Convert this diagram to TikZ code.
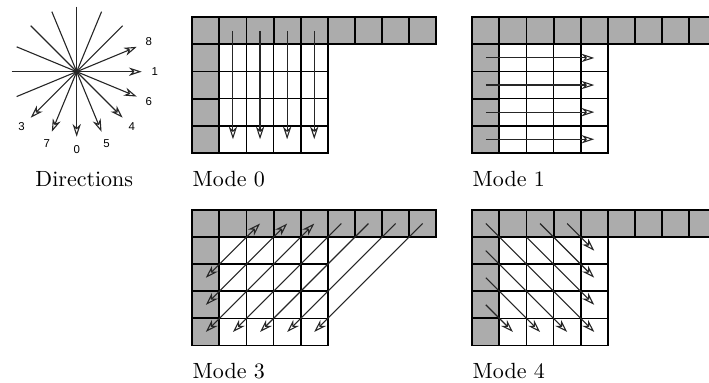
\documentclass[tikz,border=0pt]{standalone}
\usepackage{fontspec}
\newfontfamily\lblfont{Liberation Sans}
\usetikzlibrary{arrows.meta}
\newcommand\modegrid[4]{%
  \begin{scope}[shift={(#1,#2)}]
    \foreach \i in {0,...,8} \path[cellg] ({\i*27.1},0) rectangle ++(27.1,27.1);
    \foreach \j in {1,...,4} \path[cellg] (0,{\j*27.1}) rectangle ++(27.1,27.1);
    \foreach \i in {1,...,4} \foreach \j in {1,...,4} \path[cellw] ({\i*27.1},{\j*27.1}) rectangle ++(27.1,27.1);
    \draw[line width=0.9pt] (0,{5*27.1}) -- (0,0) -- ({9*27.1},0) -- ({9*27.1},27.1) -- (27.1,27.1) -- (27.1,{5*27.1});
    \foreach \i in {0,...,8} \foreach \j in {0,...,4} {
      \coordinate (#3-\i-\j) at ({(\i+0.5)*27.1},{(\j+0.5)*27.1});
      \coordinate (#3k-\i-\j) at ({\i*27.1},{\j*27.1});
    }
    \node[captext, anchor=base west] (#3-cap) at (0,{5*27.1+33.5}) {#4};
  \end{scope}}
\begin{document}
\begin{tikzpicture}[x=0.4545pt,y=-0.4545pt,
  cellg/.style={fill=gray!65,draw=black,line width=0.85pt},
  cellw/.style={fill=white,draw=black,line width=0.8pt},
  arr/.style={draw=black!85,line width=0.5pt,-{Stealth[open,length=5.8pt,width=3.8pt,inset=1.8pt]}},
  darr/.style={draw=black!85,line width=0.5pt,{Stealth[open,length=5.8pt,width=3.8pt,inset=1.8pt]}-{Stealth[open,length=5.8pt,width=3.8pt,inset=1.8pt]}},
  captext/.style={inner sep=0pt,font=\fontsize{10}{12}\selectfont},
  lbl/.style={inner sep=0pt,font=\lblfont\fontsize{5.2}{6}\selectfont}]
\useasboundingbox (0,0) rectangle (709,383);
% Directions star
\coordinate (dc) at (76.7,71.7);
\begin{scope}[shift={(dc)}, yscale=-1]
  \foreach \a/\n in {-90/0, 0/1, -135/3, -45/4, -67.5/5, -22.5/6, -112.5/7, 22.5/8} {
    \coordinate (s\n) at (\a:65);
    \coordinate (t\n) at (\a+180:65);
    \draw[arr] (t\n) -- (s\n);
    \node[lbl] (l\n) at (\a:78) {\n};
  }
\end{scope}
\node[captext, anchor=base] (capd) at (84.3,187) {Directions};
% grids
\modegrid{192.3}{17.3}{m0}{Mode 0}
\modegrid{472.3}{17.3}{m1}{Mode 1}
\modegrid{192.3}{210}{m3}{Mode 3}
\modegrid{472.3}{210}{m4}{Mode 4}
% Mode 0
\foreach \i in {1,...,4} \draw[arr] (m0-\i-0) -- (m0-\i-4);
% Mode 1
\foreach \j in {1,...,4} \draw[arr] (m1-0-\j) -- (m1-4-\j);
% Mode 3
\foreach \k in {2,3,4} \draw[darr] (m3-0-\k) -- (m3-\k-0);
\foreach \a/\b in {5/1,6/2,7/3,8/4} \draw[arr] (m3-\a-0) -- (m3-\b-4);
% Mode 4
\draw[arr] (m4-0-0) -- (m4-4-4);
\draw[arr] (m4-2-0) -- (m4-4-2);
\draw[arr] (m4-3-0) -- (m4-4-1);
\draw[arr] (m4k-2-1) -- (m4-4-3);
\draw[arr] (m4-0-1) -- (m4-3-4);
\draw[arr] (m4-0-2) -- (m4-2-4);
\draw[arr] (m4-0-3) -- (m4-1-4);
\end{tikzpicture}
\end{document}
